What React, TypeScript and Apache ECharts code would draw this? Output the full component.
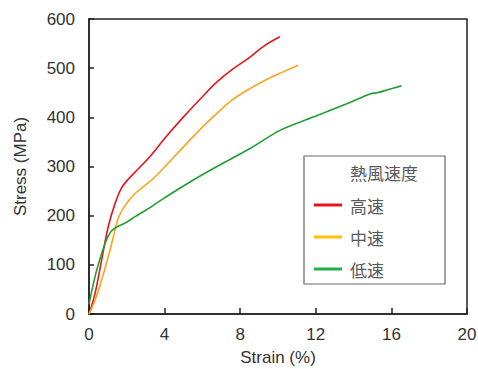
import React, { useEffect, useRef } from "react";
import * as echarts from "echarts";

const xTicks = { min: 0, max: 20, interval: 4 };
const yTicks = { min: 0, max: 600, interval: 100 };

const seriesNames = ["高速", "中速", "低速"];
const seriesColors = ["#e8141c", "#ffa31a", "#1f9e32"];
const legendLineColors = ["#e8141c", "#ffc000", "#1fae4a"];
const legendTitle = "熱風速度";

const highSpeed: [number, number][] = [
  [0, 0], [0.32, 42], [0.67, 110], [1.02, 178], [1.38, 225], [1.73, 257],
  [2.1, 275], [2.6, 295], [3.24, 321], [4.0, 357], [5.0, 401], [6.0, 442],
  [6.77, 472], [7.6, 498], [8.54, 523], [9.25, 545], [10.1, 564],
];
const midSpeed: [number, number][] = [
  [0, 0], [0.32, 28], [0.67, 69], [1.02, 117], [1.29, 157], [1.56, 196],
  [1.91, 221], [2.44, 245], [3.33, 273], [4.03, 300], [5.0, 340], [6.0, 380],
  [6.77, 408], [7.6, 436], [8.54, 459], [9.5, 479], [10.3, 493], [11.07, 506],
];
const lowSpeed: [number, number][] = [
  [0, 20], [0.32, 76], [0.67, 123], [0.94, 152], [1.15, 167], [1.38, 175],
  [1.91, 185], [2.44, 198], [3.33, 219], [4.03, 237], [5.54, 273], [6.77, 300],
  [8.54, 337], [10.13, 374], [11.9, 401], [13.67, 428], [14.9, 448],
  [15.26, 450], [15.8, 456], [16.53, 464],
];
const seriesData = [highSpeed, midSpeed, lowSpeed];

const FONT = "'Liberation Sans', Arial, sans-serif";
const CJK = "'Noto Sans CJK JP', sans-serif";

export default function App() {
  const ref = useRef<HTMLDivElement>(null);
  useEffect(() => {
    if (!ref.current) return;
    const chart = echarts.init(ref.current, undefined, { renderer: "svg" });
    const lgLeft = 304, lgTop = 156, lgW = 141, lgH = 128;
    const legendGraphics: any[] = [
      {
        type: "rect",
        shape: { x: lgLeft, y: lgTop, width: lgW, height: lgH },
        style: { fill: "#fff", stroke: "#666", lineWidth: 1.2 },
        z: 10,
      },
      {
        type: "text",
        x: 350,
        y: 172,
        style: { text: legendTitle, font: `17px ${CJK}`, fill: "#595959", textVerticalAlign: "middle" },
        z: 11,
      },
    ];
    seriesNames.forEach((n, i) => {
      const cy = 205 + i * 32;
      legendGraphics.push({
        type: "line",
        shape: { x1: 314, y1: cy, x2: 342, y2: cy },
        style: { stroke: legendLineColors[i], lineWidth: 3 },
        z: 11,
      });
      legendGraphics.push({
        type: "text",
        x: 350,
        y: cy,
        style: { text: n, font: `17px ${CJK}`, fill: "#595959", textVerticalAlign: "middle" },
        z: 11,
      });
    });
    chart.setOption({
      animation: false,
      grid: {
        left: 89, top: 19, right: 11, bottom: 55,
        outerBoundsMode: "none",
        containLabel: false,
        show: true, borderColor: "#222", borderWidth: 1.5, backgroundColor: "transparent",
      },
      xAxis: {
        type: "value",
        ...xTicks,
        name: "Strain (%)",
        nameLocation: "middle",
        nameGap: 35,
        nameTextStyle: { fontFamily: FONT, fontSize: 17, color: "#333" },
        axisLine: { show: true, lineStyle: { color: "#222", width: 1.5 } },
        axisTick: { show: true, inside: true, length: 6, lineStyle: { color: "#222", width: 1.5 } },
        axisLabel: { fontFamily: FONT, fontSize: 17, color: "#333", margin: 12 },
        splitLine: { show: false },
      },
      yAxis: {
        type: "value",
        ...yTicks,
        name: "Stress (MPa)",
        nameLocation: "middle",
        nameGap: 60,
        nameTextStyle: { fontFamily: FONT, fontSize: 17, color: "#333" },
        axisLine: { show: true, lineStyle: { color: "#222", width: 1.5 } },
        axisTick: { show: true, inside: true, length: 5, lineStyle: { color: "#222", width: 1.5 } },
        axisLabel: { fontFamily: FONT, fontSize: 17, color: "#333", margin: 14 },
        splitLine: { show: false },
      },
      series: seriesNames.map((n, i) => ({
        name: n,
        type: "line",
        data: seriesData[i],
        showSymbol: false,
        smooth: 0.35,
        lineStyle: { color: seriesColors[i], width: 1.6 },
        itemStyle: { color: seriesColors[i] },
      })),
      graphic: legendGraphics,
    });
    return () => chart.dispose();
  }, []);
  return <div ref={ref} style={{ width: 478, height: 369, position: "absolute", left: 0, top: 0 }} />;
}
